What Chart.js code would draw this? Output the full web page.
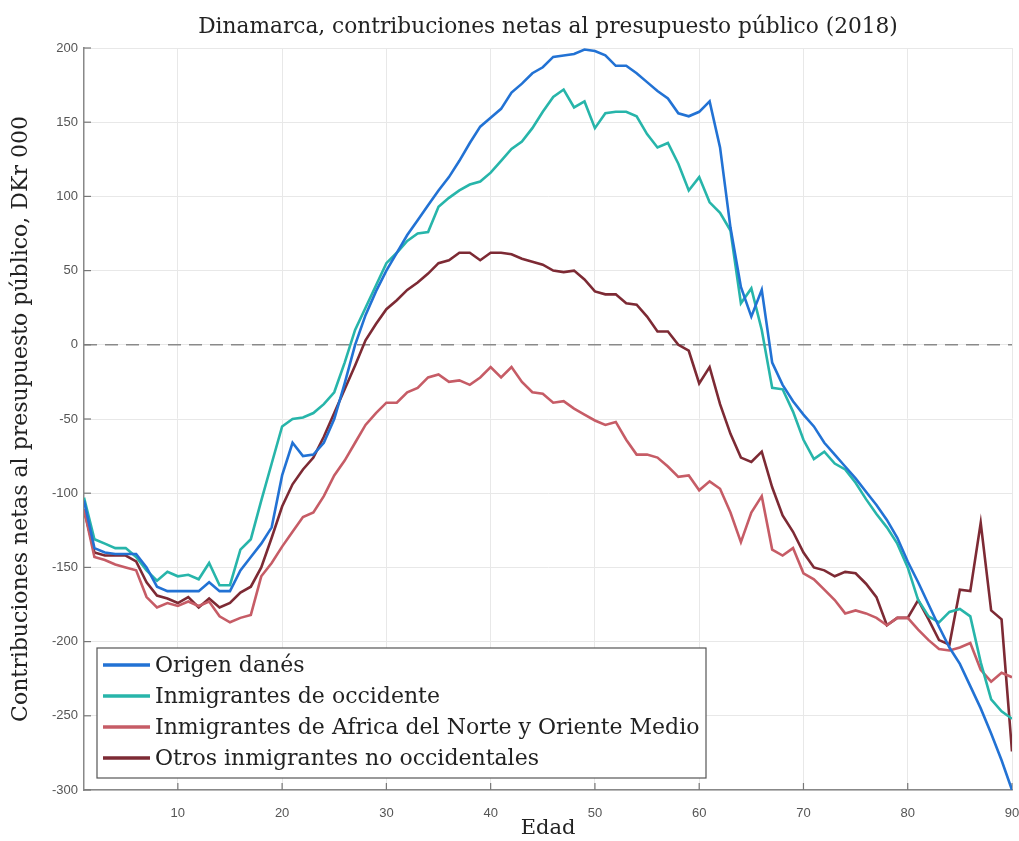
<!DOCTYPE html>
<html>
<head>
<meta charset="utf-8">
<script src="https://cdn.jsdelivr.net/npm/chart.js@4.4.1/dist/chart.umd.min.js"></script>
<style>
  html, body { margin: 0; padding: 0; background: #fff; }
  #wrap { width: 1019px; height: 841px; }
</style>
</head>
<body>
<div id="wrap"><canvas id="chart" width="1019" height="841"></canvas></div>
<script>
// Ages 1..90
const ages = [];
for (let a = 1; a <= 90; a++) ages.push(a);

const chartTitle = 'Dinamarca, contribuciones netas al presupuesto público (2018)';
const seriesNames = [
  'Origen danés',
  'Inmigrantes de occidente',
  'Inmigrantes de Africa del Norte y Oriente Medio',
  'Otros inmigrantes no occidentales'
];
const seriesColors = ['#2272d4', '#27b5aa', '#c65c66', '#7d2a34'];

// values, DKr 000
const origenDanes = [
  -105, -137, -140, -141, -141, -141, -150, -163, -166, -166,
  -166, -166, -160, -166, -166, -152, -143, -134, -123, -88,
  -66, -75, -74, -66, -50, -26, 0, 20, 36, 50,
  62, 74, 84, 94, 104, 113, 124, 136, 147, 153,
  159, 170, 176, 183, 187, 194, 195, 196, 199, 198,
  195, 188, 188, 183, 177, 171, 166, 156, 154, 157,
  164, 133, 79, 39, 19, 37, -12, -27, -38, -47,
  -55, -66, -74, -82, -90, -99, -108, -118, -130, -146,
  -160, -175, -190, -204, -215, -230, -245, -262, -280, -300
];
const occidente = [
  -103, -131, -134, -137, -137, -143, -152, -159, -153, -156,
  -155, -158, -147, -162, -162, -138, -131, -105, -80, -55,
  -50, -49, -46, -40, -32, -12, 10, 25, 40, 55,
  62, 70, 75, 76, 93, 99, 104, 108, 110, 116,
  124, 132, 137, 146, 157, 167, 172, 160, 164, 146,
  156, 157, 157, 154, 142, 133, 136, 122, 104, 113,
  96, 89, 77, 28, 38, 10, -29, -30, -45, -64,
  -77, -72, -80, -84, -93, -104, -114, -123, -134, -150,
  -172, -183, -187, -180, -178, -183, -214, -239, -247, -252
];
const africaOriente = [
  -111, -143, -145, -148, -150, -152, -170, -177, -174, -176,
  -173, -176, -173, -183, -187, -184, -182, -156, -147, -136,
  -126, -116, -113, -102, -88, -78, -66, -54, -46, -39,
  -39, -32, -29, -22, -20, -25, -24, -27, -22, -15,
  -22, -15, -25, -32, -33, -39, -38, -43, -47, -51,
  -54, -52, -64, -74, -74, -76, -82, -89, -88, -98,
  -92, -97, -113, -133, -113, -102, -138, -142, -137, -154,
  -158, -165, -172, -181, -179, -181, -184, -189, -184, -184,
  -192, -199, -205, -206, -204, -201, -219, -227, -221, -224
];
const otrosNoOcc = [
  -111, -140, -142, -142, -142, -146, -160, -169, -171, -174,
  -170, -177, -171, -177, -174, -167, -163, -150, -130, -109,
  -94, -84, -76, -62, -46, -30, -14, 3, 14, 24,
  30, 37, 42, 48, 55, 57, 62, 62, 57, 62,
  62, 61, 58, 56, 54, 50, 49, 50, 44, 36,
  34, 34, 28, 27, 19, 9, 9, 0, -4, -26,
  -15, -40, -60, -76, -79, -72, -96, -115, -126, -140,
  -150, -152, -156, -153, -154, -161, -170, -189, -184, -184,
  -172, -185, -199, -202, -165, -166, -120, -179, -185, -274
];

const xTicks = [10, 20, 30, 40, 50, 60, 70, 80, 90];
const serif = '"DejaVu Serif", "Liberation Serif", serif';
const sans = '"Liberation Sans", Arial, sans-serif';

const allSeries = [origenDanes, occidente, africaOriente, otrosNoOcc];
const datasets = allSeries.map((vals, i) => ({
  label: seriesNames[i],
  data: vals.map((v, j) => ({ x: ages[j], y: v })),
  borderColor: seriesColors[i],
  backgroundColor: seriesColors[i],
  borderWidth: 2.6,
  pointRadius: 0,
  tension: 0,
  fill: false
}));

// dashed zero line, inward tick marks, title over the plot and the boxed legend
const extras = {
  id: 'extras',
  beforeDatasetsDraw(chart) {
    const { ctx, chartArea: a, scales: { x, y } } = chart;
    const y0 = y.getPixelForValue(0);
    ctx.save();
    ctx.strokeStyle = '#8a8a8a';
    ctx.lineWidth = 1.5;
    ctx.setLineDash([13, 8]);
    ctx.beginPath();
    ctx.moveTo(a.left, y0);
    ctx.lineTo(a.right, y0);
    ctx.stroke();
    ctx.setLineDash([]);
    ctx.strokeStyle = '#777';
    ctx.lineWidth = 1.2;
    y.ticks.forEach(t => {
      const py = y.getPixelForValue(t.value);
      ctx.beginPath();
      ctx.moveTo(a.left, py);
      ctx.lineTo(a.left + 7, py);
      ctx.stroke();
    });
    x.ticks.forEach(t => {
      const px = x.getPixelForValue(t.value);
      ctx.beginPath();
      ctx.moveTo(px, a.bottom);
      ctx.lineTo(px, a.bottom - 7);
      ctx.stroke();
    });
    ctx.restore();
  },
  afterDraw(chart) {
    const { ctx, chartArea: a } = chart;
    ctx.save();
    // title centred on the plot area
    ctx.font = '21.7px ' + serif;
    ctx.fillStyle = '#222';
    ctx.textAlign = 'center';
    ctx.textBaseline = 'middle';
    ctx.fillText(chartTitle, (a.left + a.right) / 2, 27);

    const left = 97, top = 648, w = 609, h = 130;
    ctx.textAlign = 'left';
    ctx.fillStyle = '#fff';
    ctx.fillRect(left, top, w, h);
    ctx.strokeStyle = '#555';
    ctx.lineWidth = 1.2;
    ctx.strokeRect(left, top, w, h);
    ctx.font = '22px ' + serif;
    chart.data.datasets.forEach((ds, i) => {
      const cy = top + 17 + i * 31;
      ctx.strokeStyle = ds.borderColor;
      ctx.lineWidth = 3.5;
      ctx.beginPath();
      ctx.moveTo(left + 6, cy);
      ctx.lineTo(left + 53, cy);
      ctx.stroke();
      ctx.fillStyle = '#222';
      ctx.fillText(ds.label, left + 58, cy + 1);
    });
    ctx.restore();
  }
};

new Chart(document.getElementById('chart'), {
  type: 'line',
  data: { datasets: datasets },
  plugins: [extras],
  options: {
    responsive: false,
    animation: false,
    layout: { padding: { left: 0, right: 7, top: 48, bottom: 0 } },
    plugins: {
      legend: { display: false },
      tooltip: { enabled: false },
      title: { display: false }
    },
    scales: {
      x: {
        type: 'linear',
        min: 1,
        max: 90,
        afterBuildTicks: s => { s.ticks = xTicks.map(v => ({ value: v })); },
        afterFit: s => { s.height = 51; s.paddingLeft = 0; s.paddingRight = 0; },
        grid: { color: '#e8e8e8', lineWidth: 1, drawTicks: false },
        border: { color: '#888', width: 1.5 },
        ticks: { color: '#555', font: { family: sans, size: 13 }, padding: 16 },
        title: {
          display: true,
          text: 'Edad',
          color: '#222',
          font: { family: serif, size: 21 },
          padding: { top: 0, bottom: 0 }
        }
      },
      y: {
        min: -300,
        max: 200,
        ticks: { stepSize: 50, color: '#555', font: { family: sans, size: 13 }, padding: 6 },
        afterFit: s => { s.width = 84; s.paddingTop = 0; s.paddingBottom = 0; },
        grid: { color: '#e8e8e8', lineWidth: 1, drawTicks: false },
        border: { color: '#888', width: 1.5 },
        title: {
          display: true,
          text: 'Contribuciones netas al presupuesto público, DKr 000',
          color: '#222',
          font: { family: serif, size: 22 },
          padding: { top: 8, bottom: 4 }
        }
      }
    }
  }
});
</script>
</body>
</html>
